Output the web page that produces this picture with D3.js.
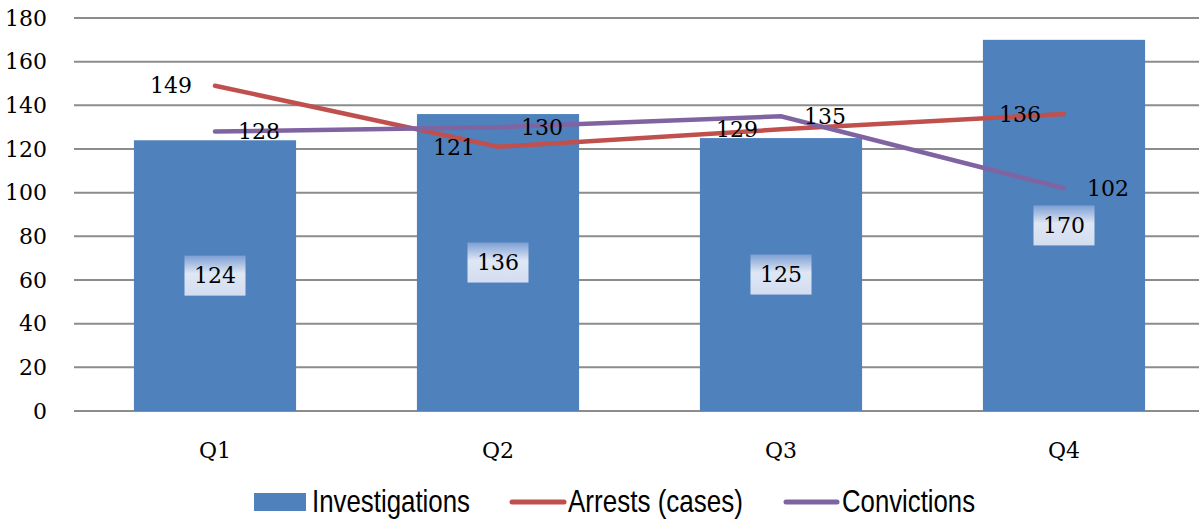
<!DOCTYPE html>
<html>
<head>
<meta charset="utf-8">
<script src="https://cdn.jsdelivr.net/npm/d3@7"></script>
<style>
  body { margin: 0; background: #fff; }
  svg { display: block; }
</style>
</head>
<body>
<div id="chart"></div>
<script>
var quarters = ["Q1", "Q2", "Q3", "Q4"];
var investigations = [124, 136, 125, 170];
var arrests = [149, 121, 129, 136];
var convictions = [128, 130, 135, 102];
var yTicks = [0, 20, 40, 60, 80, 100, 120, 140, 160, 180];

var width = 1199,
    height = 521;

var serif = "'DejaVu Serif', serif";
var narrow = "'Liberation Sans', Arial, sans-serif";

var svg = d3.select("#chart")
  .append("svg")
  .attr("width", width)
  .attr("height", height);

var defs = svg.append("defs");
var grad = defs.append("linearGradient")
  .attr("id", "labelGrad")
  .attr("x1", 0).attr("y1", 0).attr("x2", 0).attr("y2", 1);
grad.append("stop").attr("offset", "0%").attr("stop-color", "#7d9fd3");
grad.append("stop").attr("offset", "45%").attr("stop-color", "#dfe7f4");
grad.append("stop").attr("offset", "100%").attr("stop-color", "#d3ddf0");

var x = d3.scaleBand()
  .domain(quarters)
  .range([73.5, 1205.5])
  .paddingInner(0.427)
  .paddingOuter(0.2135);

var y = d3.scaleLinear()
  .domain([0, 180])
  .range([411, 18]);

// gridlines
svg.append("g")
  .selectAll("line")
  .data(yTicks)
  .enter().append("line")
  .attr("x1", 74)
  .attr("x2", width)
  .attr("y1", function(d) { return y(d); })
  .attr("y2", function(d) { return y(d); })
  .attr("stroke", "#8c8c8c")
  .attr("stroke-width", 2);

// y tick labels
svg.append("g")
  .selectAll("text")
  .data(yTicks)
  .enter().append("text")
  .attr("x", 47)
  .attr("y", function(d) { return y(d); })
  .attr("dy", "0.35em")
  .attr("text-anchor", "end")
  .style("font-family", serif)
  .style("font-size", "22px")
  .text(function(d) { return d; });

// x labels
svg.append("g")
  .selectAll("text")
  .data(quarters)
  .enter().append("text")
  .attr("x", function(d) { return x(d) + x.bandwidth() / 2; })
  .attr("y", 450)
  .attr("dy", "0.35em")
  .attr("text-anchor", "middle")
  .style("font-family", serif)
  .style("font-size", "22px")
  .text(function(d) { return d; });

// bars
svg.append("g")
  .selectAll("rect")
  .data(investigations)
  .enter().append("rect")
  .attr("x", function(d, i) { return x(quarters[i]); })
  .attr("y", function(d) { return y(d); })
  .attr("width", x.bandwidth())
  .attr("height", function(d) { return y(0) - y(d); })
  .attr("fill", "#4f81bd");

// bar labels with gradient boxes
var barLabels = svg.append("g")
  .selectAll("g")
  .data(investigations)
  .enter().append("g")
  .attr("transform", function(d, i) {
    return "translate(" + (x(quarters[i]) + x.bandwidth() / 2) + "," + ((y(d) + y(0)) / 2) + ")";
  });
barLabels.append("rect")
  .attr("x", -30.5)
  .attr("y", -20)
  .attr("width", 61)
  .attr("height", 40)
  .attr("fill", "url(#labelGrad)");
barLabels.append("text")
  .attr("text-anchor", "middle")
  .attr("dy", "0.35em")
  .style("font-family", serif)
  .style("font-size", "22px")
  .text(function(d) { return d; });

var cx = function(d, i) { return x(quarters[i]) + x.bandwidth() / 2; };

var line = d3.line()
  .x(cx)
  .y(function(d) { return y(d); });

svg.append("path")
  .datum(arrests)
  .attr("d", line)
  .attr("fill", "none")
  .attr("stroke", "#c0504d")
  .attr("stroke-width", 4.5)
  .attr("stroke-linecap", "round");

svg.append("path")
  .datum(convictions)
  .attr("d", line)
  .attr("fill", "none")
  .attr("stroke", "#8064a2")
  .attr("stroke-width", 4.5)
  .attr("stroke-linecap", "round");

// line labels
svg.append("g")
  .selectAll("text")
  .data(arrests)
  .enter().append("text")
  .attr("x", function(d, i) { return cx(d, i) - 23; })
  .attr("y", function(d) { return y(d); })
  .attr("dy", "0.35em")
  .attr("text-anchor", "end")
  .style("font-family", serif)
  .style("font-size", "22px")
  .text(function(d) { return d; });

svg.append("g")
  .selectAll("text")
  .data(convictions)
  .enter().append("text")
  .attr("x", function(d, i) { return cx(d, i) + 23; })
  .attr("y", function(d) { return y(d); })
  .attr("dy", "0.35em")
  .attr("text-anchor", "start")
  .style("font-family", serif)
  .style("font-size", "22px")
  .text(function(d) { return d; });

// legend
var legend = svg.append("g");
function legendText(xPos, label, len) {
  legend.append("text")
    .attr("x", xPos).attr("y", 512)
    .attr("textLength", len)
    .attr("lengthAdjust", "spacingAndGlyphs")
    .style("font-family", narrow).style("font-size", "32px")
    .text(label);
}
legend.append("rect")
  .attr("x", 254).attr("y", 493)
  .attr("width", 52).attr("height", 18)
  .attr("fill", "#4f81bd");
legendText(312, "Investigations", 158);
legend.append("line")
  .attr("x1", 512).attr("x2", 564).attr("y1", 502).attr("y2", 502)
  .attr("stroke", "#c0504d").attr("stroke-width", 5).attr("stroke-linecap", "round");
legendText(568, "Arrests (cases)", 175);
legend.append("line")
  .attr("x1", 786).attr("x2", 837).attr("y1", 502).attr("y2", 502)
  .attr("stroke", "#8064a2").attr("stroke-width", 5).attr("stroke-linecap", "round");
legendText(842, "Convictions", 133);
</script>
</body>
</html>
